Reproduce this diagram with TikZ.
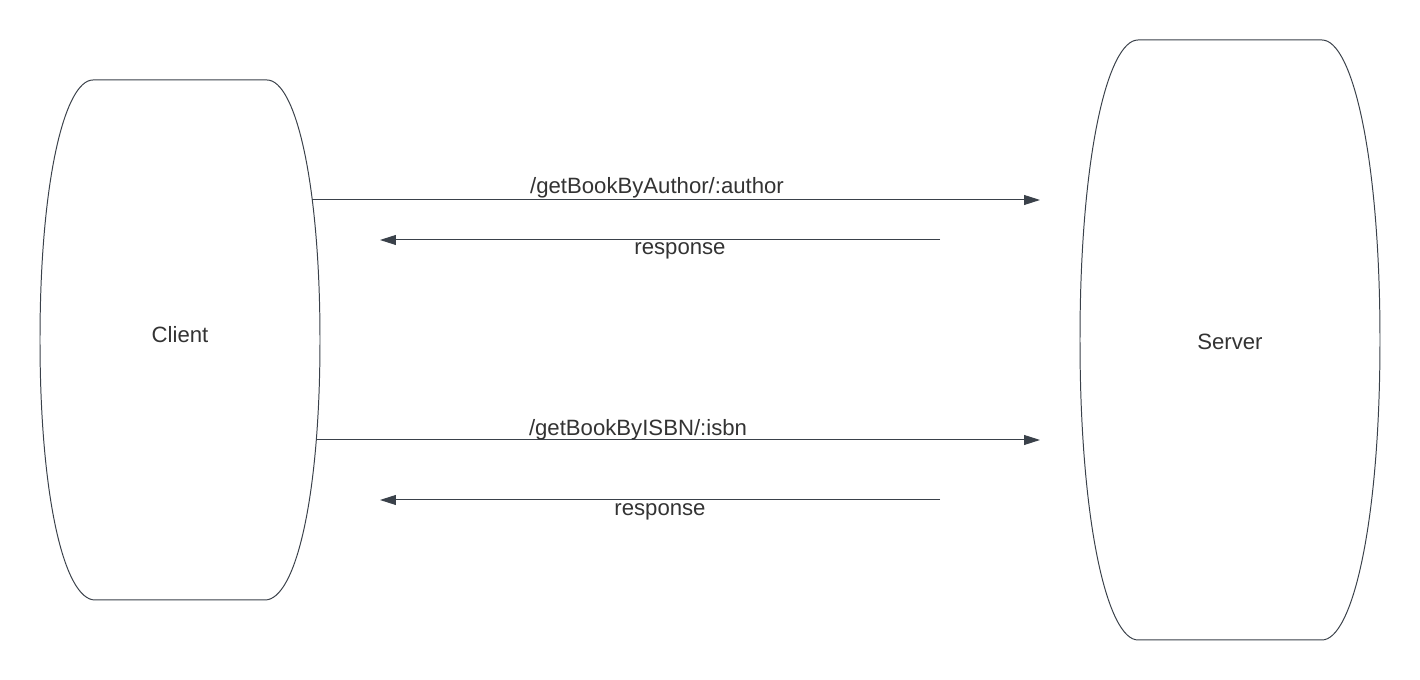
\documentclass[tikz,border=0pt]{standalone}
\usepackage{fontspec}
\setmainfont{Liberation Sans}
\usetikzlibrary{arrows.meta}

\definecolor{linegray}{HTML}{3A414A}
\definecolor{textgray}{HTML}{333333}

\tikzset{
    lbl/.style={text=textgray, font=\fontsize{6.3pt}{7.5pt}\selectfont, inner sep=0pt},
    msg/.style={draw=linegray, line width=0.28pt,
        -{Triangle[length=4.5pt, width=2.8pt]}}
}

\begin{document}
\begin{tikzpicture}[x=0.01cm, y=-0.01cm]
\useasboundingbox (0,0) rectangle (1420,680);
% client and server outlines
\draw[linegray, line width=0.28pt] (93,80) -- (267,80)
    .. controls (295,80) and (320,180) .. (320,340)
    .. controls (320,500) and (295,600) .. (265,600) -- (95,600)
    .. controls (65,600) and (40,500) .. (40,340)
    .. controls (40,180) and (65,80) .. cycle;
\draw[linegray, line width=0.28pt] (1138,40) -- (1322,40)
    .. controls (1352,40) and (1380,155) .. (1380,340)
    .. controls (1380,525) and (1352,640) .. (1322,640) -- (1138,640)
    .. controls (1108,640) and (1080,525) .. (1080,340)
    .. controls (1080,155) and (1108,40) .. cycle;
\node[lbl] (client) at (180,335) {Client};
\node[lbl] (server) at (1230,342) {Server};

\coordinate (reqA) at (312,200);
\coordinate (reqAend) at (1040,200);
\coordinate (resA) at (940,240);
\coordinate (resAend) at (380,240);
\coordinate (reqB) at (316,440);
\coordinate (reqBend) at (1040,440);
\coordinate (resB) at (940,500);
\coordinate (resBend) at (380,500);

\draw[msg] (reqA) -- (reqAend);
\draw[msg] (resA) -- (resAend);
\draw[msg] (reqB) -- (reqBend);
\draw[msg] (resB) -- (resBend);

\node[lbl] (byauthor) at (657,188) {/getBookByAuthor/:author};
\node[lbl] (resauthor) at (680,251) {response};
\node[lbl] (byisbn) at (638,430) {/getBookByISBN/:isbn};
\node[lbl] (resisbn) at (660,512) {response};
\end{tikzpicture}
\end{document}
